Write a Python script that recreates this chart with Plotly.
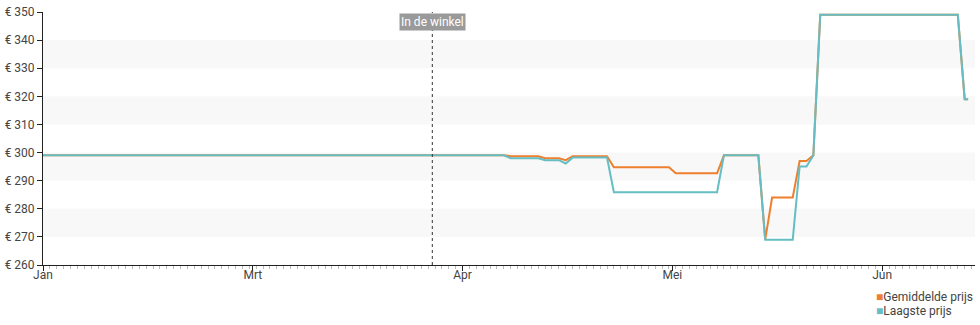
import plotly.graph_objects as go

# Day index since start of the chart
avg_days = [0, 67, 68, 72, 73, 75, 76, 77, 82, 83, 91, 92, 98, 99, 104, 105, 106, 109, 110, 111, 112, 113, 133, 134, 134.5]
avg_price = [299, 299, 298.7, 298.7, 298, 298, 297.3, 298.7, 298.7, 294.8, 294.8, 292.6, 292.6, 299, 299, 269, 284, 284, 297, 297, 299, 349, 349, 319, 319]

low_days = [0, 67, 68, 72, 73, 75, 76, 77, 82, 83, 98, 99, 104, 105, 109, 110, 111, 112, 113, 133, 134, 134.5]
low_price = [299, 299, 298, 298, 297.3, 297.3, 296.1, 298.2, 298.2, 285.9, 285.9, 299, 299, 269, 269, 295, 295, 299, 349, 349, 319, 319]

month_ticks = [0, 30.5, 61, 91.5, 122]
month_labels = ["Jan", "Mrt", "Apr", "Mei", "Jun"]
y_ticks = [260, 270, 280, 290, 300, 310, 320, 330, 340, 350]
y_labels = [f"€ {v}" for v in y_ticks]
store_day = 56.6
store_label = "In de winkel"

c_avg = "#ee7f2d"
c_low = "#66bec4"

fig = go.Figure()
fig.add_trace(go.Scatter(x=avg_days, y=avg_price, mode="lines", name="Gemiddelde prijs",
                         line=dict(color=c_avg, width=2), showlegend=False))
fig.add_trace(go.Scatter(x=low_days, y=low_price, mode="lines", name="Laagste prijs",
                         line=dict(color=c_low, width=2), showlegend=False))

shapes = []
for i in range(len(y_ticks) - 1):
    if y_ticks[i] % 20 == 10:
        shapes.append(dict(type="rect", xref="paper", x0=0, x1=1, yref="y",
                           y0=y_ticks[i], y1=y_ticks[i + 1], fillcolor="#f8f8f8",
                           line=dict(width=0), layer="below"))
shapes.append(dict(type="line", xref="x", x0=store_day, x1=store_day, yref="paper", y0=0, y1=1,
                   line=dict(color="#333", width=1, dash="dot")))

fig.update_layout(
    width=980, height=325,
    margin=dict(l=41, r=5, t=10, b=60),
    paper_bgcolor="white", plot_bgcolor="white",
    font=dict(family="Roboto", size=12, color="#444"),
    shapes=shapes,
    xaxis=dict(range=[0, 135.5], tickmode="array", tickvals=month_ticks, ticktext=month_labels,
               showgrid=False, zeroline=False, showline=True, linecolor="#222", linewidth=1,
               ticks="outside", ticklen=5, tickcolor="#222", ticklabelstandoff=-6,
               minor=dict(tickmode="linear", tick0=0, dtick=1, ticks="outside", ticklen=3,
                          tickcolor="#bbb", showgrid=False),
               tickfont=dict(size=12, color="#444")),
    yaxis=dict(range=[260, 350], tickmode="array", tickvals=y_ticks, ticktext=y_labels,
               showgrid=False, zeroline=False, showline=True, linecolor="#222", linewidth=1,
               ticks="outside", ticklen=5, tickcolor="#222", tickfont=dict(size=12, color="#444")),
    annotations=[
        dict(x=store_day, xref="x", y=0.961, yref="paper", yanchor="middle", text=store_label,
             showarrow=False, font=dict(color="white", size=12, family="Roboto"),
             bgcolor="#9a9a9a", borderpad=1),
        dict(x=0.892, xref="paper", xanchor="left", y=-0.125, yref="paper", yanchor="middle",
             text=f'<span style="color:{c_avg}">■</span>Gemiddelde prijs', showarrow=False,
             font=dict(size=12, color="#444")),
        dict(x=0.892, xref="paper", xanchor="left", y=-0.18, yref="paper", yanchor="middle",
             text=f'<span style="color:{c_low}">■</span>Laagste prijs', showarrow=False,
             font=dict(size=12, color="#444")),
    ],
)
fig.write_html("out.html")
